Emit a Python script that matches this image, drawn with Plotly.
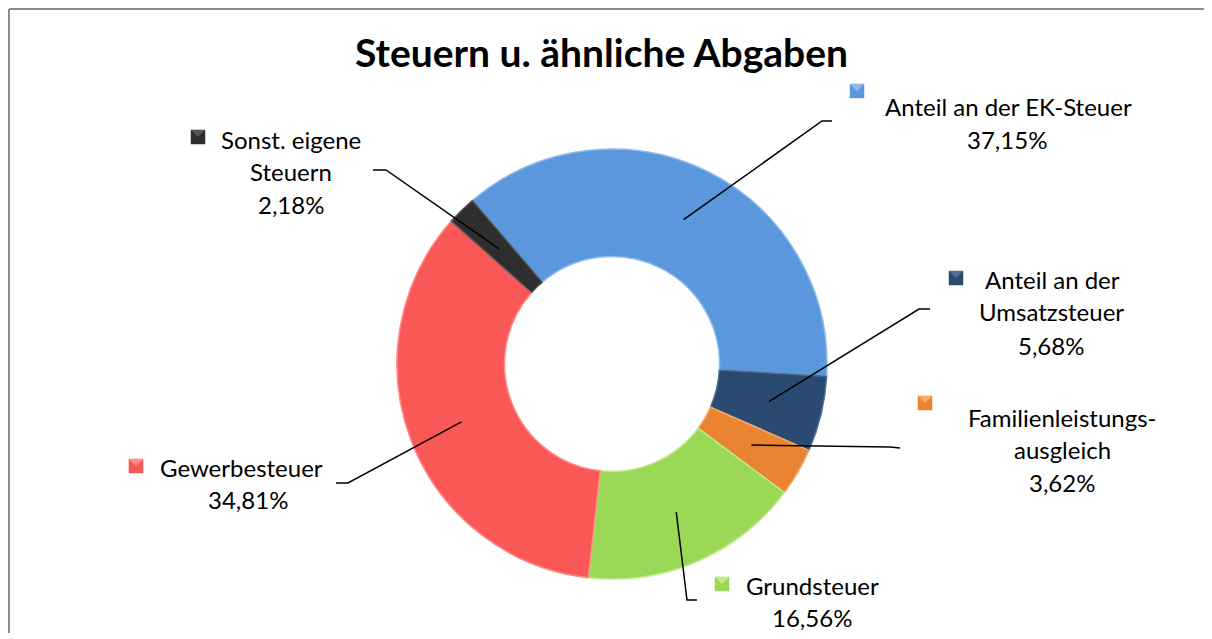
import math
import plotly.graph_objects as go

# ---------------- data ----------------
categories = ["Anteil an der EK-Steuer", "Anteil an der Umsatzsteuer",
              "Familienleistungsausgleich", "Grundsteuer", "Gewerbesteuer",
              "Sonst. eigene Steuern"]
values = [37.15, 5.68, 3.62, 16.56, 34.81, 2.18]
value_labels = ["37,15%", "5,68%", "3,62%", "16,56%", "34,81%", "2,18%"]
label_lines = [["Anteil an der EK-Steuer"],
               ["Anteil an der", "Umsatzsteuer"],
               ["Familienleistungs-", "ausgleich"],
               ["Grundsteuer"],
               ["Gewerbesteuer"],
               ["Sonst. eigene", "Steuern"]]
title_text = "Steuern u. ähnliche Abgaben"

# ---------------- style / layout ----------------
colors = ["#5A97DC", "#2B4A72", "#EA8430", "#9BD857", "#FA5757", "#2E2E2E"]
edge_colors = ["#8DBBEE", "#4F6E96", "#F5AA66", "#BDEB86", "#FF8A8A", "#555555"]
OFF = 8                      # browser body margin
W, H = 1204, 625
CX, CY, R = 612, 364, 215    # page pixel coordinates
HOLE = 0.5
ROTATION = -40.5
FONT = "Lato"
FS = 24


def px(x):
    return (x - OFF) / W


def py(y):
    return 1 - (y - OFF) / H


# label placement (page pixels)
label_layout = [
    dict(marker=(857, 91), first=(883, "left"), cx=1007, ys=[106, 139], elbow=(822, 121), end=(832, 121)),
    dict(marker=(956, 278), first=(983, "left"), cx=1051, ys=[279, 312, 345], elbow=(919, 309), end=(930, 309)),
    dict(marker=(925, 403), first=(1062, "center"), cx=1062, ys=[417, 449, 482], elbow=(890, 447), end=(900, 448)),
    dict(marker=(722, 584), first=(744, "left"), cx=812, ys=[585, 617], elbow=(687, 600), end=(697, 600)),
    dict(marker=(136, 466), first=(158, "left"), cx=248, ys=[467, 499], elbow=(348, 483), end=(336, 483)),
    dict(marker=(198, 137), first=(219, "left"), cx=291, ys=[139, 172, 204], elbow=(386, 170), end=(373, 170)),
]

fig = go.Figure()
fig.add_trace(go.Pie(
    labels=categories,
    values=values,
    hole=HOLE,
    sort=False,
    direction="clockwise",
    rotation=ROTATION,
    textinfo="none",
    hoverinfo="label+percent",
    marker=dict(colors=colors, line=dict(color=edge_colors, width=1.5)),
    domain=dict(x=[px(CX - R), px(CX + R)], y=[py(CY + R), py(CY - R)]),
    showlegend=False,
))

shapes = []
annotations = []

# outer frame: only the left and top edges are visible in the reference
shapes.append(dict(type="line", xref="paper", yref="paper",
                   x0=px(9), x1=px(9), y0=0.0, y1=py(9),
                   line=dict(color="#8C8C8C", width=2)))
shapes.append(dict(type="line", xref="paper", yref="paper",
                   x0=px(9), x1=1.0, y0=py(9), y1=py(9),
                   line=dict(color="#8C8C8C", width=2)))

annotations.append(dict(text="<b>%s</b>" % title_text, x=px(601), y=py(52),
                        xref="paper", yref="paper", showarrow=False,
                        xanchor="center", yanchor="middle",
                        font=dict(family=FONT, size=39, color="#000000")))

total = sum(values)
cum = 0.0
r_mid = R * (1 + HOLE) / 2
for i, v in enumerate(values):
    mid = ROTATION + (cum + v / 2) / total * 360.0
    cum += v
    a = math.radians(mid)
    sx = CX + r_mid * math.sin(a)
    sy = CY - r_mid * math.cos(a)
    L = label_layout[i]
    ex, ey = L["elbow"]
    tx, ty = L["end"]
    shapes.append(dict(type="path", xref="paper", yref="paper",
                       path="M %f,%f L %f,%f L %f,%f" % (px(sx), py(sy), px(ex), py(ey), px(tx), py(ty)),
                       line=dict(color="#000000", width=1.5)))
    # legend key marker with bevel look
    mx, my = L["marker"]
    s = 7
    shapes.append(dict(type="rect", xref="paper", yref="paper",
                       x0=px(mx - s), x1=px(mx + s), y0=py(my + s), y1=py(my - s),
                       fillcolor=colors[i], line=dict(color=colors[i], width=0.5)))
    shapes.append(dict(type="path", xref="paper", yref="paper",
                       path="M %f,%f L %f,%f L %f,%f Z" % (px(mx - s), py(my - s), px(mx + s), py(my - s), px(mx), py(my)),
                       fillcolor=edge_colors[i], line=dict(width=0)))
    lines = label_lines[i] + [value_labels[i]]
    for j, txt in enumerate(lines):
        if j == 0:
            x, anchor = L["first"]
        else:
            x, anchor = L["cx"], "center"
        annotations.append(dict(text=txt, x=px(x), y=py(L["ys"][j]),
                                xref="paper", yref="paper", showarrow=False,
                                xanchor=anchor, yanchor="middle",
                                font=dict(family=FONT, size=FS, color="#000000")))

fig.update_layout(
    width=W, height=H,
    margin=dict(l=0, r=0, t=0, b=0),
    paper_bgcolor="#FFFFFF",
    plot_bgcolor="#FFFFFF",
    shapes=shapes,
    annotations=annotations,
)

fig.write_html("out.html")
